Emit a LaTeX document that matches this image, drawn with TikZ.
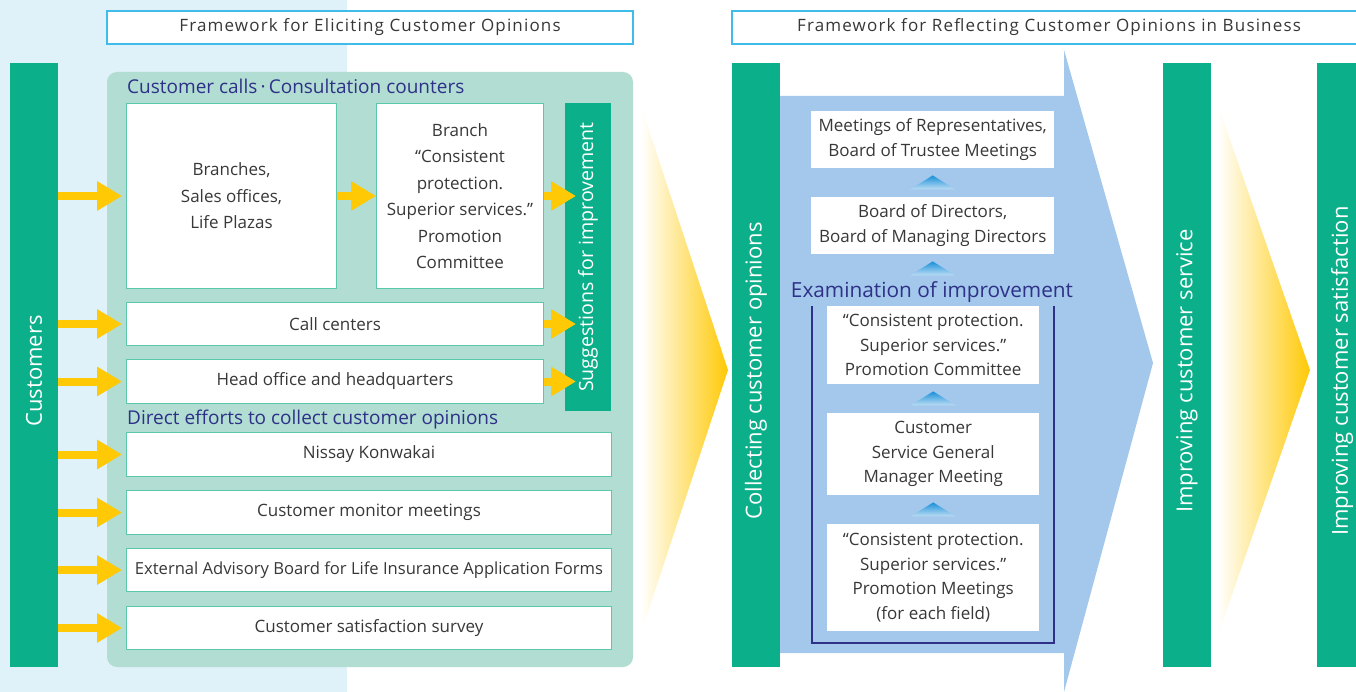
\documentclass[tikz,border=0pt]{standalone}
\usepackage{fontspec}
\setmainfont{Open Sans}
\newfontfamily\titlefont[LetterSpace=6.8]{Open Sans}
\usetikzlibrary{arrows.meta,calc}

\definecolor{bgblue}{HTML}{DFF1F9}
\definecolor{cgreen}{HTML}{0BB08A}
\definecolor{panelc}{HTML}{B1DDD3}
\definecolor{boxline}{HTML}{5BC7AB}
\definecolor{navy}{HTML}{2E3187}
\definecolor{ayellow}{HTML}{FFC905}
\definecolor{bigblue}{HTML}{A3C8EB}
\definecolor{tblue}{HTML}{1B90D9}
\definecolor{tfade}{HTML}{BCDDF4}
\definecolor{titleline}{HTML}{3FBCE9}
\definecolor{ink}{HTML}{383838}

\tikzset{
  bar/.style={fill=cgreen, draw=none, inner sep=0pt, anchor=north west},
  bartext/.style={text=white, font=\fontsize{22}{25}\selectfont, rotate=90, inner sep=0pt},
  titlebox/.style={draw=titleline, line width=2pt, fill=white, inner sep=0pt, anchor=north west,
    text=ink, font=\titlefont\fontsize{17}{20}\selectfont},
  gbox/.style={draw=boxline, line width=1pt, fill=white, inner sep=0pt, anchor=north west,
    align=center, text=ink, font=\fontsize{17}{26.5}\selectfont},
  bbox/.style={draw=none, fill=white, inner sep=0pt, anchor=north west,
    align=center, text=ink, font=\fontsize{17}{24.5}\selectfont},
  heading/.style={text=navy, inner sep=0pt, font=\fontsize{19}{22}\selectfont},
  yarr/.style={draw=ayellow, line width=8pt, -{Triangle[length=25pt,width=28pt]}},
}

% small gradient triangle pointing up, just below a box
\newcommand{\uptri}[1]{%
  \shade[top color=tblue, bottom color=tfade]
    ($(#1.south)+(0,7)$) -- ($(#1.south)+(22.5,21)$) -- ($(#1.south)+(-22.5,21)$) -- cycle;}

\begin{document}
\begin{tikzpicture}[x=1pt,y=-1pt]
\clip (0,0) rectangle (1356,692);
\fill[white] (0,0) rectangle (1356,692);
\fill[bgblue] (0,0) rectangle (347,692);

% ---------- titles ----------
\node[titlebox, minimum width=526pt, minimum height=33pt] (t1) at (106,10)
  {Framework for Eliciting Customer Opinions};
\node[titlebox, minimum width=634pt, minimum height=33pt] (t2) at (731,10)
  {Framework for Reflecting Customer Opinions in Business};

% ---------- left half ----------
\node[bar, minimum width=48pt, minimum height=604pt] (cust) at (10,63) {};
\node[bartext] (custt) at (34,371) {Customers};

\fill[panelc, rounded corners=10pt] (107,72) rectangle (633,667);

\node[heading, anchor=base west] (h1) at (127,94) {Customer calls\,·\,Consultation counters};
\node[heading, anchor=base west] (h2) at (127,424) {Direct efforts to collect customer opinions};

\node[gbox, minimum width=210pt, minimum height=185pt] (br) at (126,103)
  {Branches,\\Sales offices,\\Life Plazas};
\node[gbox, minimum width=167pt, minimum height=185pt] (cm) at (376,103)
  {Branch\\“Consistent\\protection.\\Superior services.”\\Promotion\\Committee};
\node[gbox, minimum width=417pt, minimum height=43pt] (cc) at (126,302) {Call centers};
\node[gbox, minimum width=417pt, minimum height=44pt] (ho) at (126,359) {Head office and headquarters};

\node[bar, minimum width=46pt, minimum height=308pt] (sugg) at (565,103) {};
\node[bartext, font=\fontsize{19.6}{23}\selectfont] (suggt) at (588,257) {Suggestions for improvement};

\node[gbox, minimum width=485pt, minimum height=44pt] (nk) at (126,432) {Nissay Konwakai};
\node[gbox, minimum width=485pt, minimum height=44pt] (mm) at (126,490) {Customer monitor meetings};
\node[gbox, minimum width=485pt, minimum height=43pt, font=\fontsize{16.6}{20}\selectfont] (ea) at (126,548)
  {External Advisory Board for Life Insurance Application Forms};
\node[gbox, minimum width=485pt, minimum height=43pt] (cs) at (126,606) {Customer satisfaction survey};

% arrows from the customers bar
\foreach \b in {br,cc,ho,nk,mm,ea,cs}
  \draw[yarr] (cust.east |- \b.west) -- ([xshift=-4pt]\b.west);

% arrows towards the suggestions bar
\draw[yarr] (br.east) -- (cm.west);
\foreach \b in {cm,cc,ho}
  \draw[yarr] (\b.east) -- ([xshift=11pt]sugg.west |- \b.east);

% ---------- chevrons ----------
\shade[left color=white, right color=ayellow] (641,106) -- (728,370) -- (641,633) -- cycle;
\shade[left color=white, right color=ayellow] (1218,105) -- (1310,370) -- (1218,635) -- cycle;

% ---------- right half ----------
\fill[bigblue] (780,96) -- (1064,96) -- (1064,50) -- (1153,363) -- (1064,692)
  -- (1064,653) -- (780,653) -- cycle;

\node[bar, minimum width=48pt, minimum height=604pt] (coll) at (732,63) {};
\node[bartext] (collt) at (756,371) {Collecting customer opinions};
\node[bar, minimum width=48pt, minimum height=604pt] (serv) at (1163,63) {};
\node[bartext] (servt) at (1187,371) {Improving customer service};
\node[bar, minimum width=48pt, minimum height=604pt] (sat) at (1317,63) {};
\node[bartext] (satt) at (1342,371) {Improving customer satisfaction};

\node[bbox, minimum width=243pt, minimum height=57pt] (m1) at (811,111)
  {Meetings of Representatives,\\Board of Trustee Meetings};
\node[bbox, minimum width=243pt, minimum height=57pt] (m2) at (811,197)
  {Board of Directors,\\Board of Managing Directors};

\node[heading, font=\fontsize{20.8}{24}\selectfont, anchor=base] (h3) at (932,298)
  {Examination of improvement};
\draw[navy, line width=2pt] (812,306) -- (812,643) -- (1054,643) -- (1054,306);

\node[bbox, minimum width=212pt, minimum height=78pt] (m3) at (827,306)
  {“Consistent protection.\\Superior services.”\\Promotion Committee};
\node[bbox, minimum width=212pt, minimum height=82pt] (m4) at (827,413)
  {Customer\\Service General\\Manager Meeting};
\node[bbox, minimum width=212pt, minimum height=107pt] (m5) at (827,524)
  {“Consistent protection.\\Superior services.”\\Promotion Meetings\\(for each field)};

\uptri{m1}
\uptri{m2}
\uptri{m3}
\uptri{m4}

\end{tikzpicture}
\end{document}
